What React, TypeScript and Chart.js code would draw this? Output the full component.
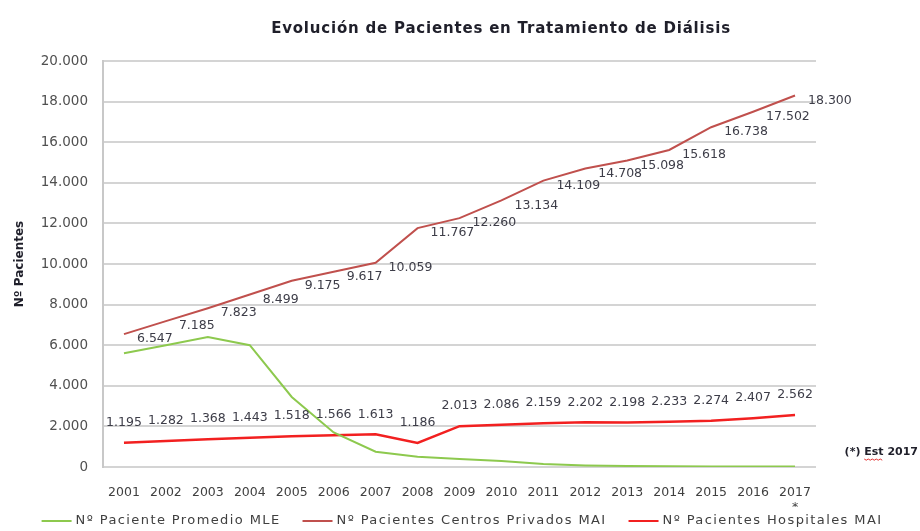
import React, { useEffect, useRef } from "react";
import { Chart, registerables } from "chart.js";

Chart.register(...registerables);

const years = ["2001","2002","2003","2004","2005","2006","2007","2008","2009","2010","2011","2012","2013","2014","2015","2016","2017*"];
const mleValues = [5600, 6000, 6400, 6000, 3450, 1700, 750, 500, 400, 300, 150, 80, 50, 40, 30, 30, 30];
const privadosValues = [6547, 7185, 7823, 8499, 9175, 9617, 10059, 11767, 12260, 13134, 14109, 14708, 15098, 15618, 16738, 17502, 18300];
const hospitalesValues = [1195, 1282, 1368, 1443, 1518, 1566, 1613, 1186, 2013, 2086, 2159, 2202, 2198, 2233, 2274, 2407, 2562];
const seriesNames = ["Nº Paciente Promedio MLE", "Nº Pacientes Centros Privados MAI", "Nº Pacientes Hospitales MAI"];
const titleText = "Evolución de Pacientes en Tratamiento de Diálisis";
const yAxisTitle = "Nº Pacientes";
const notePrefix = "(*) ";
const noteWord = "Est";
const noteSuffix = " 2017";
const yMin = 0;
const yMax = 20000;
const yStep = 2000;

const FONT = "'DejaVu Sans', sans-serif";
const fmt = (n: number) => String(Math.round(n)).replace(/\B(?=(\d{3})+(?!\d))/g, ".");

const overlayPlugin = {
  id: "overlay",
  afterDatasetsDraw(chart: any) {
    const ctx = chart.ctx;
    ctx.save();
    ctx.fillStyle = "#3d3d48";
    ctx.font = `12.5px ${FONT}`;
    chart.data.datasets.forEach((ds: any, i: number) => {
      if (!ds.labelPos) return;
      const meta = chart.getDatasetMeta(i);
      meta.data.forEach((pt: any, j: number) => {
        const txt = fmt(ds.data[j]);
        ctx.textBaseline = "middle";
        if (ds.labelPos === "right") {
          ctx.textAlign = "left";
          ctx.fillText(txt, pt.x + 13, pt.y + 5);
        } else {
          ctx.textAlign = "center";
          ctx.fillText(txt, pt.x, pt.y - 20);
        }
      });
    });
    ctx.restore();
  },
  afterDraw(chart: any) {
    const ctx = chart.ctx;
    ctx.save();
    // title
    ctx.fillStyle = "#1f1f2a";
    ctx.font = `bold 15px ${FONT}`;
    (ctx as any).letterSpacing = "0.8px";
    ctx.textAlign = "center";
    ctx.textBaseline = "middle";
    ctx.fillText(titleText, 501, 29);
    (ctx as any).letterSpacing = "0px";
    // note
    ctx.font = `bold 11px ${FONT}`;
    ctx.textAlign = "left";
    const full = notePrefix + noteWord + noteSuffix;
    const nx = 918 - ctx.measureText(full).width;
    ctx.fillText(full, nx, 452);
    const wx = nx + ctx.measureText(notePrefix).width;
    const ww = ctx.measureText(noteWord).width;
    ctx.strokeStyle = "#e03030";
    ctx.lineWidth = 1;
    ctx.beginPath();
    for (let k = 0; k <= ww; k += 2) {
      const yy = 459 + (k % 4 === 0 ? 0 : 1.2);
      if (k === 0) ctx.moveTo(wx + k, yy); else ctx.lineTo(wx + k, yy);
    }
    ctx.stroke();
    // legend
    ctx.font = `13px ${FONT}`;
    (ctx as any).letterSpacing = "1.4px";
    ctx.textAlign = "left";
    const lineLen = 30;
    const gapText = 4;
    const gapItem = 22;
    const widths = chart.data.datasets.map((ds: any) => lineLen + gapText + ctx.measureText(ds.label).width);
    const total = widths.reduce((a: number, b: number) => a + b, 0) + gapItem * (widths.length - 1);
    let x = 462 - total / 2;
    const y = 521;
    chart.data.datasets.forEach((ds: any, i: number) => {
      ctx.strokeStyle = ds.borderColor;
      ctx.lineWidth = 2;
      ctx.beginPath();
      ctx.moveTo(x, y);
      ctx.lineTo(x + lineLen, y);
      ctx.stroke();
      ctx.fillStyle = "#404040";
      ctx.fillText(ds.label, x + lineLen + gapText, y);
      x += widths[i] + gapItem;
    });
    (ctx as any).letterSpacing = "0px";
    ctx.restore();
  },
};

export default function App() {
  const ref = useRef<HTMLCanvasElement>(null);
  useEffect(() => {
    if (!ref.current) return;
    const chart = new Chart(ref.current, {
      type: "line",
      data: {
        labels: years.map((y) => (y.endsWith("*") ? [y.slice(0, -1), "*"] : y)),
        datasets: [
          { label: seriesNames[0], data: mleValues, borderColor: "#8dc94e", backgroundColor: "#8dc94e", borderWidth: 2, pointRadius: 0, tension: 0 } as any,
          { label: seriesNames[1], data: privadosValues, borderColor: "#c0504d", backgroundColor: "#c0504d", borderWidth: 2, pointRadius: 0, tension: 0, labelPos: "right" } as any,
          { label: seriesNames[2], data: hospitalesValues, borderColor: "#f22020", backgroundColor: "#f22020", borderWidth: 2.5, pointRadius: 0, tension: 0, labelPos: "top" } as any,
        ],
      },
      options: {
        animation: false,
        responsive: false,
        layout: { padding: { top: 61, right: 104, bottom: 24, left: 0 } },
        plugins: { legend: { display: false }, title: { display: false }, tooltip: { enabled: false } },
        scales: {
          x: {
            offset: true,
            grid: { display: false, drawTicks: false },
            border: { display: false },
            ticks: { color: "#404040", font: { family: FONT, size: 12.5 }, padding: 18, maxRotation: 0, autoSkip: false },
            afterFit: (s: any) => { s.height = 40; },
          },
          y: {
            min: yMin,
            max: yMax,
            ticks: { stepSize: yStep, color: "#505050", font: { family: FONT, size: 13.5 }, padding: 15, callback: (v: any) => fmt(Number(v)) },
            grid: { color: "#d4d4d4", lineWidth: 2, drawTicks: false },
            border: { display: true, color: "#c8c8c8", width: 2 },
            title: { display: true, text: yAxisTitle, color: "#1f1f2a", font: { family: FONT, size: 12, weight: "bold" }, padding: { top: 13, bottom: 0 } },
            afterFit: (s: any) => { s.width = 103; },
          },
        },
      },
      plugins: [overlayPlugin],
    });
    return () => chart.destroy();
  }, []);
  return (
    <div style={{ position: "absolute", left: 0, top: 0, width: 920, height: 531, background: "#fff" }}>
      <canvas ref={ref} width={920} height={531} />
    </div>
  );
}
